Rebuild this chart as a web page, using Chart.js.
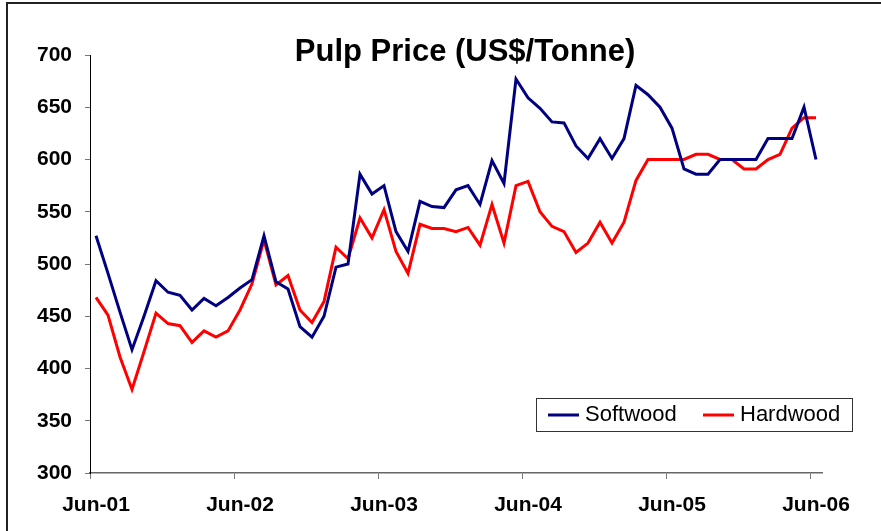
<!DOCTYPE html>
<html>
<head>
<meta charset="utf-8">
<script src="https://cdn.jsdelivr.net/npm/chart.js@4/dist/chart.umd.min.js"></script>
<style>
  html, body { margin: 0; padding: 0; background: #fff; }
  #wrap { width: 881px; height: 531px; }
</style>
</head>
<body>
<div id="wrap"><canvas id="pulpChart" width="881" height="531"></canvas></div>
<script>
const months = [
  "Jun-01","Jul-01","Aug-01","Sep-01","Oct-01","Nov-01","Dec-01","Jan-02","Feb-02","Mar-02","Apr-02","May-02",
  "Jun-02","Jul-02","Aug-02","Sep-02","Oct-02","Nov-02","Dec-02","Jan-03","Feb-03","Mar-03","Apr-03","May-03",
  "Jun-03","Jul-03","Aug-03","Sep-03","Oct-03","Nov-03","Dec-03","Jan-04","Feb-04","Mar-04","Apr-04","May-04",
  "Jun-04","Jul-04","Aug-04","Sep-04","Oct-04","Nov-04","Dec-04","Jan-05","Feb-05","Mar-05","Apr-05","May-05",
  "Jun-05","Jul-05","Aug-05","Sep-05","Oct-05","Nov-05","Dec-05","Jan-06","Feb-06","Mar-06","Apr-06","May-06",
  "Jun-06"
];

const softwood = [
  527, 491, 454, 418, 450, 484, 473, 470, 456, 467, 460, 468,
  477, 485, 527, 483, 476, 440, 430, 450, 497, 500, 586, 567,
  575, 531, 512, 560, 555, 554, 571, 575, 557, 599, 577, 677,
  659, 649, 636, 635, 613, 601, 620, 601, 620, 671, 662, 650,
  630, 591, 586, 586, 600, 600, 600, 600, 620, 620, 620, 650,
  600
];

const hardwood = [
  468, 451, 411, 380, 416, 453, 443, 441, 425, 436, 430, 436,
  456, 481, 523, 480, 489, 456, 444, 464, 516, 505, 544, 525,
  552, 512, 491, 538, 534, 534, 531, 535, 518, 557, 520, 575,
  579, 550, 536, 531, 511, 520, 540, 520, 540, 580, 600, 600,
  600, 600, 605, 605, 600, 600, 591, 591, 600, 605, 630, 640,
  640
];

const chartTitle = "Pulp Price (US$/Tonne)";

// frame, title and boxed legend drawn on the canvas
const decorations = {
  id: "decorations",
  beforeDraw(chart) {
    const ctx = chart.ctx;
    ctx.save();
    ctx.fillStyle = "#fff";
    ctx.fillRect(0, 0, chart.width, chart.height);
    ctx.strokeStyle = "#222";
    ctx.lineWidth = 2;
    ctx.beginPath();
    ctx.moveTo(7, chart.height);
    ctx.lineTo(7, 3);
    ctx.lineTo(chart.width, 3);
    ctx.stroke();
    ctx.restore();
  },
  afterDraw(chart) {
    const ctx = chart.ctx;
    ctx.save();
    ctx.fillStyle = "#000";
    ctx.font = "bold 31px 'Liberation Sans', Arial, sans-serif";
    ctx.textAlign = "center";
    ctx.textBaseline = "alphabetic";
    ctx.fillText(chartTitle, 465, 61);

    // legend
    ctx.fillStyle = "#fff";
    ctx.fillRect(536, 398, 316, 33);
    ctx.strokeStyle = "#333";
    ctx.lineWidth = 1;
    ctx.strokeRect(536.5, 398.5, 316, 33);
    ctx.font = "22px 'Liberation Sans', Arial, sans-serif";
    ctx.textAlign = "left";
    ctx.textBaseline = "middle";
    const starts = [548, 703];
    chart.data.datasets.forEach((ds, i) => {
      const x = starts[i];
      ctx.strokeStyle = ds.borderColor;
      ctx.lineWidth = 3;
      ctx.beginPath();
      ctx.moveTo(x, 415);
      ctx.lineTo(x + 31, 415);
      ctx.stroke();
      ctx.fillStyle = "#000";
      ctx.fillText(ds.label, x + 37, 415);
    });
    ctx.restore();
  }
};

new Chart(document.getElementById("pulpChart"), {
  type: "line",
  data: {
    labels: months,
    datasets: [
      {
        label: "Softwood",
        data: softwood,
        borderColor: "#000080",
        borderWidth: 3,
        pointRadius: 0,
        tension: 0,
      },
      {
        label: "Hardwood",
        data: hardwood,
        borderColor: "#ff0000",
        borderWidth: 3,
        pointRadius: 0,
        tension: 0,
      },
    ],
  },
  options: {
    responsive: false,
    animation: false,
    layout: {
      padding: { top: 55, left: 0, right: 59, bottom: 0 },
    },
    plugins: {
      legend: { display: false },
      title: { display: false },
      tooltip: { enabled: false },
    },
    scales: {
      x: {
        type: "category",
        offset: true,
        afterFit: (s) => { s.height = 58; },
        grid: {
          offset: true,
          drawOnChartArea: false,
          tickLength: 6,
          color: (c) => (c.index % 12 === 0 ? "#777" : "rgba(0,0,0,0)"),
        },
        border: { display: true, color: "#666", width: 1.5 },
        ticks: {
          autoSkip: false,
          maxRotation: 0,
          padding: 14,
          color: "#000",
          font: { family: "'Liberation Sans', Arial, sans-serif", size: 21, weight: "bold" },
          callback: function (value, index) {
            return index % 12 === 0 ? this.getLabelForValue(value) : "";
          },
        },
      },
      y: {
        min: 300,
        max: 700,
        afterFit: (s) => { s.width = 90; },
        grid: {
          drawOnChartArea: false,
          tickLength: 5,
          color: "#777",
        },
        border: { display: true, color: "#000", width: 1 },
        ticks: {
          stepSize: 50,
          padding: 13,
          color: "#000",
          font: { family: "'Liberation Sans', Arial, sans-serif", size: 21, weight: "bold" },
        },
      },
    },
  },
  plugins: [decorations],
});
</script>
</body>
</html>
